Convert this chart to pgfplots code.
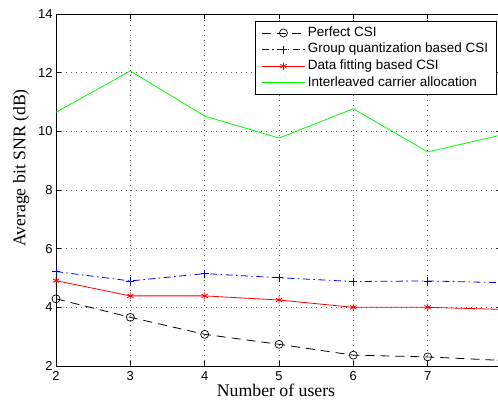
\documentclass[border=0pt]{standalone}
\usepackage{pgfplots}
\pgfplotsset{compat=1.18}
\usetikzlibrary{calc}
\usepackage{fontspec}
\setmainfont{Liberation Serif}
\newfontfamily\arial{Liberation Sans}

\begin{document}
\begin{tikzpicture}
\begin{axis}[
  scale only axis, width=446bp, height=352bp,
  xmin=2, xmax=8, ymin=2, ymax=14,
  xtick={2,3,4,5,6,7}, ytick={2,4,6,8,10,12,14},
  tick align=inside, major tick length=5bp,
  axis line style={line width=0.9bp},
  every tick/.style={black, line width=0.8bp},
  grid=major,
  grid style={black!65, line width=0.6bp, dash pattern=on 0.8bp off 4.2bp},
  /pgf/number format/assume math mode=true,
  ticklabel style={font=\arial\fontsize{13}{13}\selectfont},
  xticklabel style={yshift=-2bp},
  xlabel={Number of users},
  ylabel={Average bit SNR (dB)},
  label style={font=\fontsize{17.8}{18}\selectfont},
  xlabel style={at={($(rel axis cs:0.4933,0)+(0,-30bp)$)}, anchor=base, inner sep=0pt, text depth=0pt},
  ylabel style={at={($(rel axis cs:0,0.5625)+(-30.5bp,0)$)}, anchor=base},
  legend cell align=left,
  legend image code/.code={\draw[mark repeat=2,mark phase=2,#1] plot coordinates {(0bp,0bp) (21.5bp,0bp) (43bp,0bp)};},
  legend style={at={($(rel axis cs:1,1)+(-5bp,-6.7bp)$)}, anchor=north east,
    draw=black, line width=0.9bp, fill=white,
    font=\arial\fontsize{13.5}{13.5}\selectfont,
    inner xsep=6bp, inner ysep=3.5bp, row sep=0pt,
    nodes={text height=9.6bp, text depth=3bp, inner ysep=2bp, inner xsep=2.5bp}},
]
\coordinate (SW) at (rel axis cs:0,0);
\coordinate (NE) at (rel axis cs:1,1);

\addplot[black, line width=0.8bp, dash pattern=on 9bp off 6bp, mark=o, mark size=4bp, mark options={solid, line width=0.7bp}]
  coordinates {(2,4.29) (3,3.66) (4,3.08) (5,2.74) (6,2.37) (7,2.31) (8,2.19)};
\addlegendentry{Perfect CSI}

\addplot[blue, line width=0.8bp, dash pattern=on 7bp off 3.5bp on 1.5bp off 3.5bp, mark=+, mark size=4bp, mark options={solid, line width=0.8bp}]
  coordinates {(2,5.22) (3,4.90) (4,5.15) (5,5.01) (6,4.88) (7,4.90) (8,4.84)};
\addlegendentry{Group quantization based CSI}

\addplot[red, line width=0.8bp, mark=asterisk, mark size=3.6bp, mark options={solid, line width=0.8bp}]
  coordinates {(2,4.91) (3,4.39) (4,4.39) (5,4.25) (6,4.00) (7,4.00) (8,3.93)};
\addlegendentry{Data fitting based CSI}

\addplot[green, line width=0.8bp]
  coordinates {(2,10.65) (3,12.06) (4,10.52) (5,9.77) (6,10.77) (7,9.30) (8,9.88)};
\addlegendentry{Interleaved carrier allocation}
\end{axis}
\pgfresetboundingbox
\useasboundingbox ($(SW)+(-56bp,-35bp)$) rectangle ($(NE)+(-4bp,14bp)$);
\end{tikzpicture}
\end{document}
